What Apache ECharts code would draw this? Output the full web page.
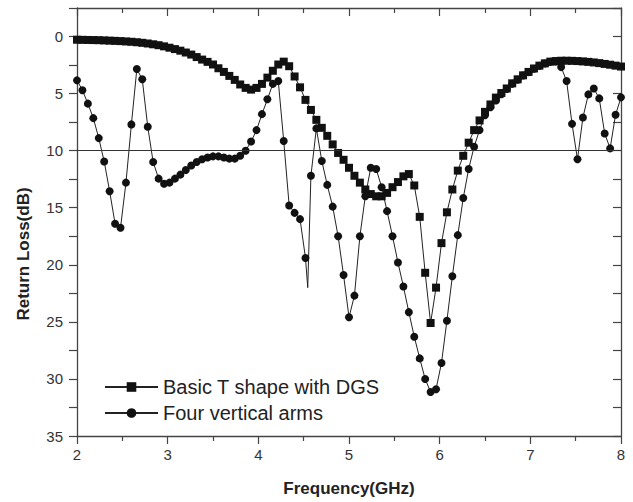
<!DOCTYPE html>
<html>
<head>
<meta charset="utf-8">
<script src="https://cdn.jsdelivr.net/npm/echarts@6/dist/echarts.min.js"></script>
<style>html,body{margin:0;padding:0;background:#fff}#c{width:633px;height:502px}</style>
</head>
<body>
<div id="c"></div>
<script>
// Frequency samples (GHz)
const freq = [
2.00,2.06,2.12,2.18,2.24,2.30,2.36,2.42,2.48,2.54,
2.60,2.66,2.72,2.78,2.84,2.90,2.96,3.02,3.08,3.14,
3.20,3.26,3.32,3.38,3.44,3.50,3.56,3.62,3.68,3.74,
3.80,3.86,3.92,3.98,4.04,4.10,4.16,4.22,4.28,4.34,
4.40,4.46,4.52,4.58,4.64,4.70,4.76,4.82,4.88,4.94,
5.00,5.06,5.12,5.18,5.24,5.30,5.36,5.42,5.48,5.54,
5.60,5.66,5.72,5.78,5.84,5.90,5.96,6.02,6.08,6.14,
6.20,6.26,6.32,6.38,6.44,6.50,6.56,6.62,6.68,6.74,
6.80,6.86,6.92,6.98,7.04,7.10,7.16,7.22,7.28,7.34,
7.40,7.46,7.52,7.58,7.64,7.70,7.76,7.82,7.88,7.94,
8.00];

// Return loss (dB) - Basic T shape with DGS
const basicT = [
0.28,0.29,0.30,0.31,0.32,0.34,0.36,0.38,0.40,0.43,
0.46,0.50,0.55,0.61,0.68,0.76,0.86,0.98,1.10,1.24,
1.40,1.58,1.80,2.02,2.22,2.45,2.78,3.10,3.45,3.80,
4.20,4.50,4.65,4.50,4.15,3.60,3.00,2.45,2.20,2.60,
3.50,4.45,5.55,6.43,7.30,8.00,8.70,9.45,10.20,10.80,
11.50,12.20,12.80,13.40,13.80,14.00,14.00,13.70,13.20,12.75,
12.25,12.05,13.05,15.80,20.70,25.10,22.00,18.10,15.40,13.40,
11.75,10.45,9.30,8.20,7.35,6.60,5.95,5.35,4.95,4.55,
4.10,3.75,3.40,3.10,2.80,2.55,2.35,2.20,2.15,2.12,
2.12,2.13,2.15,2.18,2.22,2.27,2.33,2.40,2.47,2.55,
2.63];

// Return loss (dB) - Four vertical arms
const fourArms = [
3.84,4.70,5.88,7.15,8.90,10.95,13.55,16.40,16.75,12.80,
7.70,2.85,3.75,7.90,11.00,12.45,12.90,12.80,12.45,12.10,
11.70,11.30,11.00,10.75,10.60,10.50,10.50,10.60,10.70,10.70,
10.45,10.00,9.20,8.20,6.80,5.50,4.15,3.90,9.15,14.80,
15.45,16.00,19.40,12.20,8.05,10.90,13.00,14.90,17.50,20.90,
24.60,22.70,17.50,14.00,11.50,11.60,13.20,15.30,17.50,19.80,
21.90,24.15,26.30,28.20,30.00,31.15,30.90,28.60,24.90,21.00,
17.40,14.15,11.60,9.65,8.20,6.90,6.20,5.60,5.05,4.60,
4.15,3.78,3.42,3.12,2.82,2.57,2.37,2.22,2.20,2.68,
3.90,7.65,10.75,7.10,5.07,4.55,5.42,8.50,9.80,6.86,
5.33];

// Unmarked vertex of the "Four vertical arms" trace
const armsExtraFreq = [4.545];
const armsExtraLoss = [22.0];

const seriesNames = ['Basic T shape with DGS', 'Four vertical arms'];
const xTicks = [2, 3, 4, 5, 6, 7, 8];
const yTicks = [0, 5, 10, 15, 20, 25, 30, 35];
const refLevel = 10;

const basicData = freq.map((f, i) => [f, basicT[i]]);
const armsData = freq.map((f, i) => [f, fourArms[i]]);
armsExtraFreq.forEach((f, j) => {
  const idx = armsData.findIndex(p => p[0] > f);
  armsData.splice(idx, 0, { value: [f, armsExtraLoss[j]], symbol: 'none' });
});

const FONT = "'Liberation Sans', Arial, sans-serif";
const AX = '#444';
const chart = echarts.init(document.getElementById('c'), null, { renderer: 'svg' });

const baseX = {
  type: 'value', min: xTicks[0], max: xTicks[xTicks.length - 1], interval: 1,
  splitLine: { show: false },
  axisLine: { show: true, onZero: false, lineStyle: { color: AX, width: 1.3 } },
  minorTick: { show: true, splitNumber: 2, length: 5, lineStyle: { color: AX, width: 1.2 } },
  minorSplitLine: { show: false }
};
const baseY = {
  type: 'value', inverse: true, min: -2.5, max: yTicks[yTicks.length - 1], interval: 2.5,
  splitLine: { show: false },
  axisLine: { show: true, onZero: false, lineStyle: { color: AX, width: 1.3 } }
};

chart.setOption({
  animation: false,
  backgroundColor: '#fff',
  grid: { left: 77, right: 12, top: 8, bottom: 59.5, containLabel: false },
  legend: {
    orient: 'vertical', left: 104, top: 377, padding: 0,
    itemWidth: 53, itemHeight: 12, itemGap: 6,
    textStyle: { fontFamily: FONT, fontSize: 20, color: '#222', lineHeight: 20 },
    data: seriesNames
  },
  xAxis: [
    Object.assign({}, baseX, {
      position: 'bottom',
      name: 'Frequency(GHz)', nameLocation: 'middle', nameGap: 44,
      nameTextStyle: { fontFamily: FONT, fontSize: 17, fontWeight: 'bold', color: '#222' },
      axisTick: { show: true, inside: false, length: 8, lineStyle: { color: AX, width: 1.2 } },
      axisLabel: { show: true, margin: 11, fontFamily: FONT, fontSize: 15, color: '#333',
        formatter: v => xTicks.includes(v) ? String(v) : '' }
    }),
    Object.assign({}, baseX, {
      position: 'top',
      axisTick: { show: true, inside: true, length: 8, lineStyle: { color: AX, width: 1.2 } },
      axisLabel: { show: false }
    })
  ],
  yAxis: [
    Object.assign({}, baseY, {
      position: 'left',
      name: 'Return Loss(dB)', nameLocation: 'middle', nameGap: 45, nameRotate: 90,
      nameTextStyle: { fontFamily: FONT, fontSize: 17, fontWeight: 'bold', color: '#222', padding: [0, 64, 0, 0] },
      axisTick: { show: true, inside: false, length: 8, lineStyle: { color: AX, width: 1.2 } },
      axisLabel: { show: true, margin: 14, fontFamily: FONT, fontSize: 15, color: '#333',
        formatter: v => yTicks.includes(v) ? String(v) : '' }
    }),
    Object.assign({}, baseY, {
      position: 'right',
      axisTick: { show: true, inside: true, length: 8, lineStyle: { color: AX, width: 1.2 } },
      axisLabel: { show: false }
    })
  ],
  series: [
    {
      name: seriesNames[0], type: 'line', xAxisIndex: 0, yAxisIndex: 0,
      data: basicData, symbol: 'rect', symbolSize: 8, showAllSymbol: true,
      lineStyle: { color: '#222', width: 1 }, itemStyle: { color: '#111' },
      markLine: {
        silent: true, symbol: 'none', label: { show: false },
        lineStyle: { color: '#333', width: 1.1, type: 'solid' },
        data: [{ yAxis: refLevel }]
      }
    },
    {
      name: seriesNames[1], type: 'line', xAxisIndex: 0, yAxisIndex: 0,
      data: armsData, symbol: 'circle', symbolSize: 8, showAllSymbol: true,
      lineStyle: { color: '#222', width: 1 }, itemStyle: { color: '#111' }
    }
  ]
});
</script>
</body>
</html>
